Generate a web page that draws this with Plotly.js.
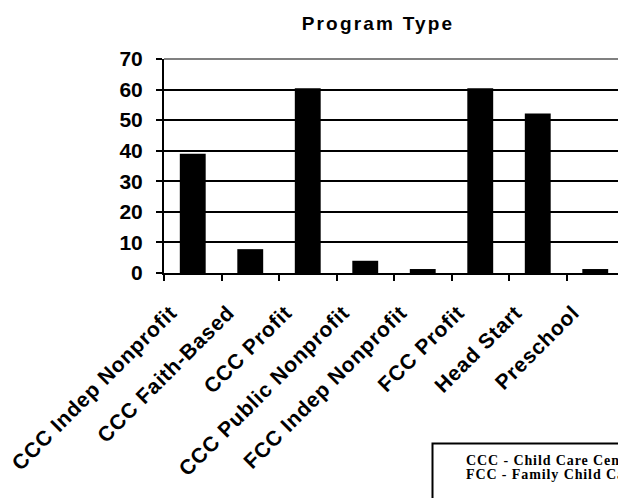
<!DOCTYPE html>
<html>
<head>
<meta charset="utf-8">
<script src="https://cdn.plot.ly/plotly-3.0.1.min.js"></script>
<style>
html, body { margin: 0; padding: 0; overflow: hidden; background: #fff; }
#chart { width: 680px; height: 498px; }
.gtitle { letter-spacing: 2.2px; }
.annotation-text { letter-spacing: 0.9px; }
g.xtick text { letter-spacing: 0.8px; }
</style>
</head>
<body>
<div id="chart"></div>
<script>
// Data
const categories = ['CCC Indep Nonprofit', 'CCC Faith-Based', 'CCC Profit', 'CCC Public Nonprofit',
                    'FCC Indep Nonprofit', 'FCC Profit', 'Head Start', 'Preschool'];
const values = [39, 7.8, 60.4, 4, 1.3, 60.4, 52.2, 1.3];
const yTicks = [0, 10, 20, 30, 40, 50, 60, 70];
const chartTitle = 'Program Type';
const noteLines = ['CCC - Child Care Center', 'FCC - Family Child Care'];

// Layout geometry (pixels)
const W = 680, H = 498;
const L = 164, T = 59, PW = 460, PH = 214.5;
const R = W - L - PW, B = H - T - PH;
const px2paperX = p => (p - L) / PW;
const px2paperY = p => (T + PH - p) / PH;

const sansBold = { family: 'Arial, "Liberation Sans", sans-serif', size: 21, color: '#000', weight: 'bold' };

const trace = {
  type: 'bar',
  x: categories,
  y: values,
  marker: { color: '#000', line: { width: 0 } },
  hoverinfo: 'x+y'
};

const layout = {
  width: W, height: H,
  margin: { l: L, r: R, t: T, b: B, pad: 0 },
  paper_bgcolor: '#fff',
  plot_bgcolor: '#fff',
  showlegend: false,
  bargap: 0.55,
  title: {
    text: chartTitle,
    font: { family: 'Arial, "Liberation Sans", sans-serif', size: 19, color: '#000', weight: 'bold' },
    xref: 'container', yref: 'container',
    x: 378 / W, xanchor: 'center',
    y: 1 - 23 / H, yanchor: 'middle'
  },
  xaxis: {
    type: 'category',
    tickson: 'boundaries',
    ticks: 'outside', ticklen: 6, tickwidth: 2, tickcolor: '#000',
    showline: true, linecolor: '#000', linewidth: 2,
    showgrid: false, zeroline: false,
    tickangle: -45,
    tickfont: sansBold,
    ticklabelshift: -22,
    ticklabelstandoff: 17,
    fixedrange: true
  },
  yaxis: {
    range: [0, 70],
    tickvals: yTicks,
    ticktext: yTicks.map(String),
    ticks: 'outside', ticklen: 6, tickwidth: 2, tickcolor: '#000',
    showline: true, linecolor: '#000', linewidth: 2,
    showgrid: true, gridcolor: '#000', gridwidth: 2,
    zeroline: false,
    tickfont: sansBold,
    ticklabelstandoff: 9,
    fixedrange: true
  },
  shapes: [
    { type: 'line', xref: 'paper', yref: 'paper', x0: 0, x1: 1, y0: 1, y1: 1,
      line: { color: '#808080', width: 2 } },
    { type: 'rect', xref: 'paper', yref: 'paper',
      x0: px2paperX(432.5), x1: px2paperX(W + 20),
      y0: px2paperY(444.5), y1: px2paperY(H + 30),
      line: { color: '#000', width: 2 }, fillcolor: 'rgba(0,0,0,0)' }
  ],
  annotations: noteLines.map((t, i) => ({
    text: t, showarrow: false,
    xref: 'paper', yref: 'paper',
    x: px2paperX(464), xanchor: 'left',
    y: px2paperY(461 + i * 14.5), yanchor: 'middle',
    font: { family: '"Liberation Serif", "Times New Roman", serif', size: 14, color: '#000', weight: 'bold' }
  }))
};

Plotly.newPlot('chart', [trace], layout, { displayModeBar: false, staticPlot: true });
</script>
</body>
</html>
